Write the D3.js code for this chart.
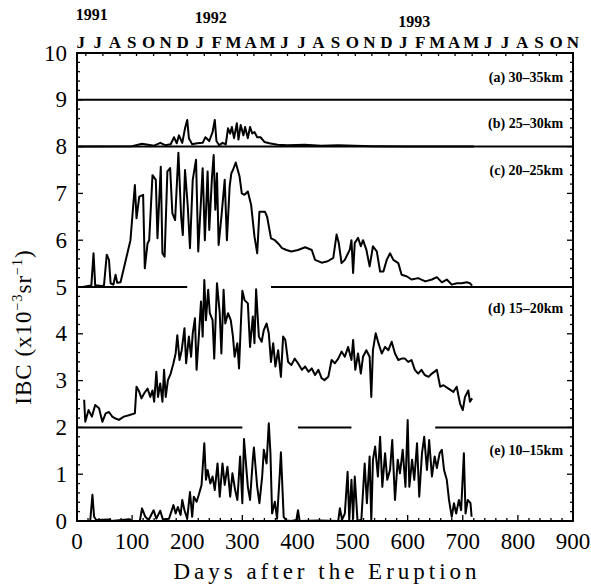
<!DOCTYPE html>
<html><head><meta charset="utf-8">
<script src="https://cdn.jsdelivr.net/npm/d3@7/dist/d3.min.js"></script>
<style>body{margin:0;background:#fff}svg{display:block}</style>
</head><body>
<svg id="chart" width="591" height="585"></svg>
<script>
// ---------- data ----------
const xTicks = [0,100,200,300,400,500,600,700,800,900];
const yTicks = [0,1,2,3,4,5,6,7,8,9,10];
const monthLetters = ["J","J","A","S","O","N","D","J","F","M","A","M","J","J","A","S","O","N","D","J","F","M","A","M","J","J","A","S","O","N"];
const monthStartDays = [16,47,78,108,139,169,200,231,260,291,321,352,382,413,444,474,505,535,566,597,625,656,686,717,747,778,809,839,870];
const yearLabels = ["1991","1992","1993"];
const yearMonthIndex = [0,7,19];
const panelLabels = ["(a) 30\u201335km","(b) 25\u201330km","(c) 20\u201325km","(d) 15\u201320km","(e) 10\u201315km"];
const panelBases = [9,8,5,2,0];
const baselineSegments = [
  [9,0,900],[8,0,900],[5,0,200],[5,352,900],[2,0,300],[2,401,498],[2,650,900]
];
// (b) 25-30 km
const seriesB = [[0,8.0],[100,8.01],[118,8.06],[140,8.02],[151,8.08],[160,8.03],[170,8.05],[176,8.2],[181,8.07],[185,8.24],[191,8.08],[196,8.39],[200,8.57],[203,8.18],[209,8.05],[218,8.07],[228,8.08],[233,8.2],[240,8.12],[246,8.31],[250,8.57],[253,8.12],[258,8.03],[264,8.08],[270,8.05],[274,8.39],[278,8.28],[281,8.42],[285,8.18],[290,8.5],[293,8.15],[297,8.46],[302,8.24],[305,8.42],[310,8.18],[314,8.42],[318,8.28],[322,8.31],[327,8.2],[333,8.2],[340,8.1],[349,8.07],[364,8.04],[382,8.03],[413,8.04],[443,8.02],[474,8.03],[504,8.02],[535,8.01],[600,8.0],[720,8.0]];
// (c) 20-25 km
const seriesC = [[0,5.0],[10,5.0],[20,5.02],[26,5.03],[30,5.72],[33,5.04],[45,5.02],[49,5.04],[54,5.69],[58,5.58],[61,5.08],[66,5.05],[70,5.26],[73,5.09],[79,5.1],[97,6.0],[105,7.18],[108,6.47],[113,6.93],[120,6.97],[123,5.4],[128,5.93],[131,6.0],[137,7.39],[143,7.29],[146,6.04],[152,7.57],[155,5.72],[159,5.65],[164,7.47],[169,7.54],[173,6.58],[178,6.43],[184,7.87],[189,6.5],[192,6.11],[196,7.5],[201,6.72],[205,5.83],[210,7.29],[216,7.72],[220,5.76],[225,6.86],[228,7.54],[232,6.0],[237,7.47],[240,6.22],[245,7.36],[248,7.82],[251,6.65],[254,7.43],[257,5.9],[262,6.5],[268,7.29],[272,6.0],[277,7.15],[280,7.43],[283,7.5],[288,7.66],[295,7.36],[299,7.0],[304,6.97],[310,7.04],[316,6.75],[322,6.08],[327,5.72],[331,6.61],[341,6.61],[345,6.5],[352,6.04],[359,6.0],[365,5.93],[372,5.83],[380,5.79],[389,5.76],[401,5.79],[414,5.85],[426,5.79],[432,5.58],[444,5.52],[455,5.55],[465,5.62],[471,6.12],[475,5.94],[480,5.51],[486,5.58],[495,5.8],[498,6.0],[501,5.3],[504,5.94],[510,6.05],[515,5.87],[519,6.0],[525,5.8],[531,5.44],[537,5.87],[544,5.76],[550,5.33],[556,5.33],[562,5.58],[568,5.72],[574,5.58],[583,5.51],[589,5.26],[598,5.23],[607,5.16],[619,5.19],[632,5.12],[644,5.16],[653,5.21],[662,5.1],[671,5.16],[680,5.05],[689,5.08],[698,5.08],[707,5.1],[713,5.08],[717,5.03]];
// (d) 15-20 km
const seriesD = [[13,2.59],[15,2.12],[21,2.37],[27,2.23],[33,2.48],[40,2.41],[46,2.12],[52,2.3],[58,2.33],[64,2.23],[70,2.19],[76,2.16],[85,2.23],[94,2.26],[105,2.3],[108,2.87],[113,2.76],[117,2.62],[122,2.73],[128,2.83],[133,2.65],[137,2.79],[140,2.55],[144,3.19],[147,2.65],[151,2.94],[155,2.55],[158,3.23],[161,2.65],[165,3.01],[170,3.15],[175,3.37],[179,3.58],[182,3.97],[186,3.44],[190,3.65],[195,4.12],[198,3.37],[203,3.94],[207,3.51],[210,4.01],[214,4.33],[217,3.23],[221,3.94],[225,4.69],[228,3.94],[231,5.15],[234,4.29],[238,4.94],[241,4.44],[246,4.29],[249,3.47],[254,5.08],[259,4.44],[262,3.58],[266,4.94],[269,4.22],[274,4.44],[279,4.29],[283,3.94],[286,3.51],[291,3.8],[294,3.26],[297,4.12],[300,4.92],[304,4.72],[310,4.65],[314,3.72],[319,4.37],[322,3.8],[325,4.95],[330,3.94],[335,3.83],[339,4.08],[344,4.22],[348,4.01],[352,3.4],[356,3.8],[360,3.3],[365,3.65],[370,3.08],[374,3.94],[378,3.87],[383,3.4],[389,3.33],[395,3.47],[401,3.37],[408,3.23],[414,3.3],[420,3.19],[426,3.26],[432,3.12],[438,3.23],[444,3.05],[449,3.01],[456,3.08],[462,3.44],[468,3.37],[474,3.47],[480,3.62],[486,3.51],[492,3.72],[498,3.44],[501,3.87],[505,3.23],[510,3.58],[515,3.15],[519,3.51],[525,3.65],[531,3.51],[534,2.65],[537,3.65],[542,4.01],[547,3.8],[553,3.58],[559,3.72],[565,3.65],[571,3.83],[577,3.58],[583,3.44],[589,3.47],[595,3.47],[601,3.4],[607,3.44],[613,3.23],[619,3.15],[625,3.23],[631,3.12],[638,3.08],[644,3.15],[653,3.23],[659,2.87],[665,2.9],[674,2.83],[683,2.76],[689,2.87],[695,2.51],[700,2.37],[704,2.65],[710,2.79],[713,2.55],[717,2.62]];
// (e) 10-15 km
const seriesE = [[0,0],[24,0],[28,0.56],[31,0.09],[35,0.02],[60,0.03],[62,0],[95,0.04],[100,0],[114,0],[118,0.27],[124,0.09],[130,0.02],[139,0.23],[144,0.05],[151,0.22],[156,0.03],[167,0.05],[175,0.34],[179,0.16],[183,0.3],[188,0.13],[191,0.45],[195,0.23],[200,0.05],[205,0.62],[209,0.09],[212,0.52],[217,0.41],[221,0.56],[226,0.77],[231,1.66],[234,0.88],[237,1.09],[242,0.8],[246,0.95],[250,0.66],[255,1.23],[259,0.52],[264,1.23],[268,0.77],[273,1.16],[278,0.52],[282,1.02],[287,0.66],[291,0.45],[296,1.38],[300,0.38],[303,1.75],[310,0.73],[314,0.45],[319,1.31],[321,1.57],[327,0.73],[331,0.38],[336,0.95],[339,1.52],[344,1.23],[348,2.09],[351,1.45],[354,0.16],[359,0.41],[363,0.05],[368,1.02],[370,1.47],[375,0.09],[380,0.01],[389,0],[398,0.02],[401,0.23],[404,0],[440,0.01],[474,0],[477,0.27],[481,0.03],[486,0.16],[491,1.05],[494,0.02],[498,0.88],[501,0.05],[504,0.95],[509,0],[516,0.03],[522,1.23],[526,0.38],[531,1.38],[534,0],[537,1.31],[541,1.59],[546,0.95],[550,1.8],[554,0.73],[559,1.45],[563,0.88],[568,1.09],[572,1.73],[577,0.45],[582,1.31],[586,1.02],[591,1.52],[596,0.73],[600,2.16],[603,0.73],[608,1.31],[612,0.88],[617,1.66],[621,0.52],[626,1.45],[630,1.8],[635,1.09],[639,1.73],[644,0.95],[649,1.38],[653,1.13],[658,1.45],[662,1.52],[666,1.09],[671,0.88],[675,0.45],[680,0.09],[684,0.38],[688,0.16],[693,0.45],[697,0.23],[702,1.45],[705,0.16],[709,0.45],[714,0.38],[716,0.09]];

// ---------- layout ----------
const W = 591, H = 585;
const m = {left:77, right:18, top:53, bottom:64};
const svg = d3.select("#chart");
const FONT = "'Liberation Serif','Times New Roman',serif";
const x = d3.scaleLinear().domain([0,900]).range([m.left, W - m.right]);
const y = d3.scaleLinear().domain([0,10]).range([H - m.bottom, m.top]);
const x0 = x.range()[0], x1 = x.range()[1], y0 = y.range()[0], y1 = y.range()[1];

const g = svg.append("g");

// ticks
const tickStyle = sel => sel.attr("stroke","#000").attr("stroke-width",1.3);
const yMinor = d3.range(0, 10.001, 0.2);
yMinor.forEach(v => {
  const major = Math.abs(v - Math.round(v)) < 1e-6;
  const len = major ? 6 : 3;
  g.append("line").attr("x1",x0).attr("x2",x0+len).attr("y1",y(v)).attr("y2",y(v)).call(tickStyle);
  g.append("line").attr("x1",x1).attr("x2",x1-len).attr("y1",y(v)).attr("y2",y(v)).call(tickStyle);
});
d3.range(0, 901, 20).forEach(d => {
  const len = d % 100 === 0 ? 6 : 3;
  g.append("line").attr("x1",x(d)).attr("x2",x(d)).attr("y1",y0).attr("y2",y0-len).call(tickStyle);
});
monthStartDays.forEach(d => {
  g.append("line").attr("x1",x(d)).attr("x2",x(d)).attr("y1",y1).attr("y2",y1+3).call(tickStyle);
});

// baselines
baselineSegments.forEach(([v,a,b]) => {
  g.append("line").attr("x1",x(a)).attr("x2",x(b)).attr("y1",y(v)).attr("y2",y(v))
    .attr("stroke","#000").attr("stroke-width",2);
});

// series
const line = d3.line().x(d => x(d[0])).y(d => y(d[1]));
[seriesB, seriesC, seriesD, seriesE].forEach(s => {
  g.append("path").datum(s).attr("d", line).attr("fill","none")
    .attr("stroke","#000").attr("stroke-width",2).attr("stroke-linejoin","round");
});

// frame
g.append("rect").attr("x",x0).attr("y",y1).attr("width",x1-x0).attr("height",y0-y1)
  .attr("fill","none").attr("stroke","#000").attr("stroke-width",2);

// tick labels
g.selectAll(".xl").data(xTicks).enter().append("text")
  .attr("x", d => x(d)).attr("y", y0 + 28).attr("text-anchor","middle")
  .attr("font-family",FONT).attr("font-size",23).text(d => d);
g.selectAll(".yl").data(yTicks).enter().append("text")
  .attr("x", x0 - 10).attr("y", d => y(d) + 7.5).attr("text-anchor","end")
  .attr("font-family",FONT).attr("font-size",23).text(d => d);

// month letters
const mx = d3.scalePoint().domain(d3.range(monthLetters.length)).range([x(7), x(900)]);
g.selectAll(".ml").data(monthLetters).enter().append("text")
  .attr("x",(d,i)=>mx(i)).attr("y", y1 - 5).attr("text-anchor","middle")
  .attr("font-family",FONT).attr("font-weight","bold").attr("font-size",17).text(d=>d);
g.selectAll(".yr").data(yearLabels).enter().append("text")
  .attr("x",(d,i)=>mx(yearMonthIndex[i]) - 5).attr("y",(d,i)=> [20,23,27][i])
  .attr("text-anchor","start")
  .attr("font-family",FONT).attr("font-weight","bold").attr("font-size",16).text(d=>d);

// panel labels
const labelVals = [9.38, 8.40, 7.39, 4.44, 1.41];
g.selectAll(".pl").data(panelLabels).enter().append("text")
  .attr("x", x(882)).attr("y",(d,i)=>y(labelVals[i])).attr("text-anchor","end")
  .attr("font-family",FONT).attr("font-weight","bold").attr("font-size",14).text(d=>d);

// axis titles
g.append("text").attr("x",(x0+x1)/2 + 2).attr("y",H-6).attr("text-anchor","middle")
  .attr("font-family",FONT).attr("font-size",23).attr("letter-spacing",4)
  .text("Days after the Eruption");
const yt = g.append("text").attr("transform",`translate(31,${(y0+y1)/2 + 40}) rotate(-90)`)
  .attr("text-anchor","middle").attr("font-family",FONT).attr("font-size",23).attr("letter-spacing",1);
yt.append("tspan").text("IBC (x10");
yt.append("tspan").attr("font-size",14).attr("dy",-9).text("\u22123");
yt.append("tspan").attr("dy",9).text("sr");
yt.append("tspan").attr("font-size",14).attr("dy",-9).text("\u22121");
yt.append("tspan").attr("dy",9).text(")");
</script>
</body></html>
